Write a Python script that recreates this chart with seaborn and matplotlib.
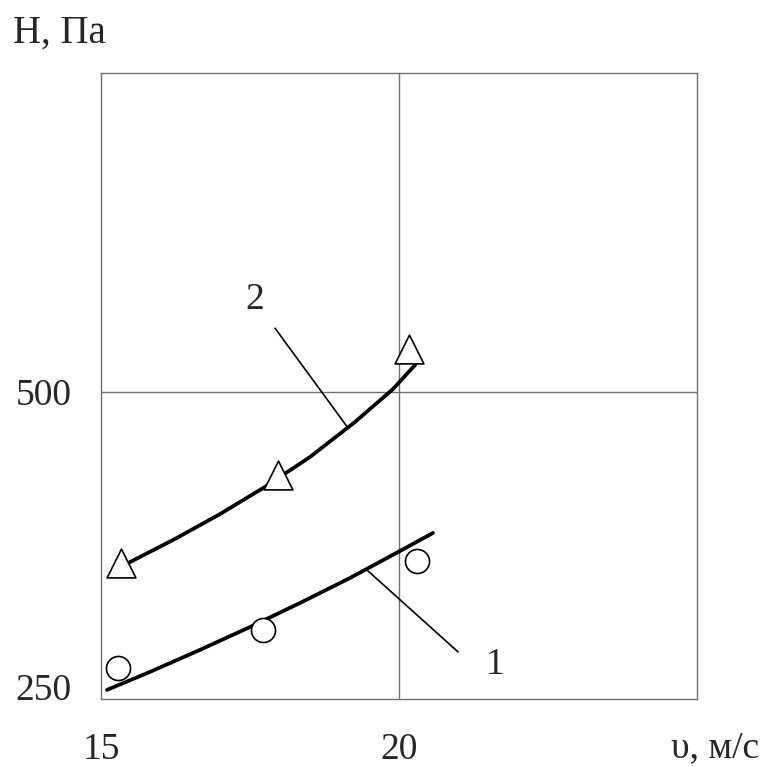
import matplotlib
matplotlib.use("Agg")
import matplotlib.pyplot as plt
import seaborn as sns

# measured points (marker data)
circle_v = [15.29, 17.72, 20.30]
circle_h = [266, 298, 357]
triangle_v = [15.34, 17.97, 20.17]
triangle_h = [355, 430, 536]

# fitted curves
curve1_v = [15.10, 15.82, 16.66, 17.50, 18.34, 19.18, 20.02, 20.57]
curve1_h = [247.5, 262.7, 281.4, 300.8, 321.2, 342.4, 365.3, 380.5]
curve2_v = [15.35, 15.49, 16.24, 17.00, 17.75, 18.51, 19.26, 19.90, 20.27]
curve2_h = [352, 355.9, 375.4, 396.6, 419.5, 445.0, 474.5, 502.5, 522.9]

# leader lines to the curve numbers
leader1_v = [19.46, 20.99]
leader1_h = [349.2, 279.7]
leader2_v = [17.92, 19.13]
leader2_h = [554, 470.5]

curve_labels = ["1", "2"]
label_v = [21.61, 17.58]
label_h = [268.6, 578]

x_ticks = [15, 20]
y_ticks = [250, 500]

sns.set_style("white")
plt.rcParams['font.family'] = ['Liberation Serif', 'DejaVu Serif']

fig = plt.figure(figsize=(7.63, 7.67), dpi=100)
ax = fig.add_axes([0.1324, 0.0887, 0.7811, 0.8161])

ax.set_xlim(15, 25)
ax.set_ylim(239.8, 770.3)

# grid lines only at 20 m/s and 500 Pa
ax.axvline(20, color='#707070', lw=1.0, zorder=1)
ax.axhline(500, color='#707070', lw=1.0, zorder=1)
for sp in ax.spines.values():
    sp.set_color('#707070')
    sp.set_linewidth(1.0)

sns.lineplot(x=curve1_v, y=curve1_h, sort=False, estimator=None,
             color='black', linewidth=2.7, ax=ax, zorder=2)
sns.lineplot(x=curve2_v, y=curve2_h, sort=False, estimator=None,
             color='black', linewidth=2.7, ax=ax, zorder=2)
sns.lineplot(x=leader1_v, y=leader1_h, sort=False, estimator=None,
             color='black', linewidth=1.2, ax=ax, zorder=2)
sns.lineplot(x=leader2_v, y=leader2_h, sort=False, estimator=None,
             color='black', linewidth=1.2, ax=ax, zorder=2)

sns.scatterplot(x=circle_v, y=circle_h, marker='o', s=300,
                facecolor='white', edgecolor='black', linewidth=1.2,
                ax=ax, zorder=3)
sns.scatterplot(x=triangle_v, y=triangle_h, marker='^', s=430,
                facecolor='white', edgecolor='black', linewidth=1.2,
                ax=ax, zorder=3)

for lab, lv, lh in zip(curve_labels, label_v, label_h):
    ax.text(lv, lh, lab, fontsize=27, ha='center', va='center')

ax.set_xticks(x_ticks)
ax.set_yticks(y_ticks)
ax.set_xticklabels([str(t) for t in x_ticks])
ax.set_yticklabels([str(t) for t in y_ticks])
ax.tick_params(axis='both', length=0, labelsize=27)
ax.tick_params(axis='x', pad=24)
ax.tick_params(axis='y', pad=21)
ax.set_xlabel('')
ax.set_ylabel('')

fig.text(13 / 763, 1 - 43 / 767, 'H, Па', fontsize=28, ha='left', va='baseline')
fig.text(759 / 763, 1 - 757 / 767, 'υ, м/с', fontsize=27, ha='right', va='baseline')

plt.savefig('out.png', dpi=100)
plt.close()
